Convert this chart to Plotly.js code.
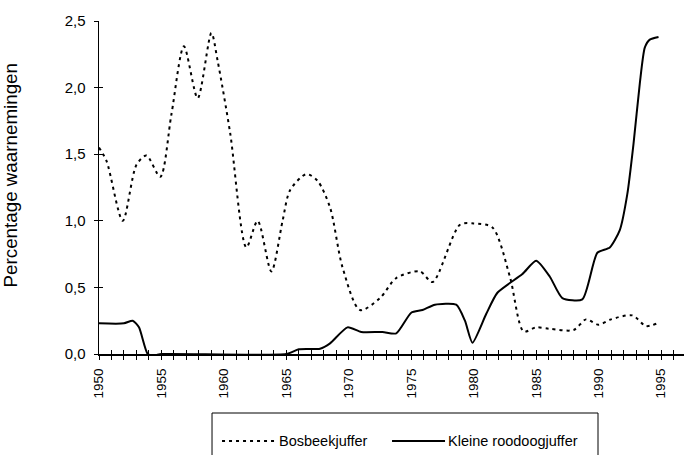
<!DOCTYPE html>
<html>
<head>
<meta charset="utf-8">
<script src="https://cdn.plot.ly/plotly-3.0.1.min.js"></script>
<style>html,body{margin:0;padding:0;background:#fff;}#chart{width:684px;height:455px;}</style>
</head>
<body>
<div id="chart"></div>
<script>
// Bosbeekjuffer (dotted)
const bosYears = [1950, 1950.6, 1951.9, 1953, 1953.8, 1954.9, 1955.8, 1956.8, 1957.9, 1959, 1959.5, 1960.5, 1961.8, 1962.7, 1963.8, 1964.7, 1965.3, 1966.6, 1967.5, 1968.5, 1969.5, 1970.9, 1972.5, 1973.8, 1975.7, 1976.7, 1978.9, 1980, 1981.5, 1982.9, 1984, 1985, 1986, 1988, 1989, 1990, 1991, 1992.7, 1993.8, 1994.7];
const bosValues = [1.55, 1.45, 1.0, 1.42, 1.49, 1.33, 1.8, 2.31, 1.92, 2.41, 2.2, 1.66, 0.80, 1.0, 0.62, 1.0, 1.23, 1.35, 1.3, 1.1, 0.65, 0.33, 0.42, 0.57, 0.62, 0.54, 0.97, 0.98, 0.95, 0.58, 0.17, 0.2, 0.19, 0.18, 0.26, 0.22, 0.26, 0.29, 0.21, 0.23];
// Kleine roodoogjuffer (solid)
const kleineYears = [1950, 1952, 1952.7, 1953.2, 1953.9, 1954.4, 1955, 1965, 1966, 1967.7, 1968.5, 1969.9, 1971, 1972.7, 1973.8, 1975, 1975.9, 1976.9, 1978.6, 1979.3, 1979.9, 1981, 1981.9, 1983.9, 1985, 1986.1, 1987.1, 1988.7, 1989.9, 1990.9, 1991.7, 1992.3, 1992.8, 1993.3, 1993.7, 1994.1, 1994.8];
const kleineValues = [0.23, 0.23, 0.25, 0.2, 0.0, -0.01, 0, 0, 0.035, 0.04, 0.08, 0.2, 0.165, 0.165, 0.155, 0.31, 0.33, 0.37, 0.37, 0.25, 0.085, 0.3, 0.46, 0.6, 0.70, 0.58, 0.42, 0.41, 0.76, 0.80, 0.93, 1.2, 1.58, 2.03, 2.3, 2.36, 2.38];

const seriesNames = ["Bosbeekjuffer", "Kleine roodoogjuffer"];
const yTitle = "Percentage waarnemingen";
const xRange = [1950, 1996.84];
const yRange = [0, 2.5];
// yearly tick positions, labelled every 5 years
const tickYears = [1950,1951,1952,1953,1954,1955,1956,1957,1958,1959,1960,1961,1962,1963,1964,1965,1966,1967,1968,1969,1970,1971,1972,1973,1974,1975,1976,1977,1978,1979,1980,1981,1982,1983,1984,1985,1986,1987,1988,1989,1990,1991,1992,1993,1994,1995,1996];
const tickLabels = tickYears.map(y => (y % 5 === 0 ? String(y) : ''));

const font = "Arial, 'Liberation Sans', sans-serif";

const traces = [
  {x: bosYears, y: bosValues, name: seriesNames[0], type: 'scatter', mode: 'lines',
   line: {color: '#000', width: 2, dash: '3px,4px', shape: 'spline', smoothing: 0.8}},
  {x: kleineYears, y: kleineValues, name: seriesNames[1], type: 'scatter', mode: 'lines',
   line: {color: '#000', width: 2, shape: 'spline', smoothing: 0.6}},
  // invisible copy so the overlay axes (inner tick halves) are rendered
  {x: kleineYears, y: kleineValues, xaxis: 'x2', yaxis: 'y2', type: 'scatter', mode: 'lines',
   line: {color: 'rgba(0,0,0,0)', width: 0}, opacity: 0, hoverinfo: 'skip', showlegend: false}
];

const layout = {
  width: 684, height: 455,
  margin: {l: 99, r: 0, t: 21, b: 101},
  paper_bgcolor: '#fff', plot_bgcolor: '#fff',
  separators: ',.',
  showlegend: false,
  font: {family: font, color: '#000'},
  xaxis: {
    range: xRange, tickmode: 'array', tickvals: tickYears, ticktext: tickLabels,
    ticks: 'outside', ticklen: 4, tickcolor: '#000', tickwidth: 1,
    tickangle: -90, tickfont: {size: 13.5, family: font}, ticklabelstandoff: 3,
    showline: true, linecolor: '#000', linewidth: 2,
    showgrid: false, zeroline: false
  },
  xaxis2: {
    range: xRange, overlaying: 'x', anchor: 'y2', side: 'bottom',
    tickmode: 'array', tickvals: tickYears,
    ticks: 'inside', ticklen: 4, tickcolor: '#000', tickwidth: 1,
    showticklabels: false, showline: false, showgrid: false, zeroline: false
  },
  yaxis: {
    range: yRange, tickmode: 'linear', tick0: 0, dtick: 0.5, tickformat: '.1f',
    ticks: 'outside', ticklen: 4, tickcolor: '#000', tickwidth: 1,
    tickfont: {size: 15, family: font}, ticklabelstandoff: 5,
    showline: true, linecolor: '#000', linewidth: 1.5,
    showgrid: false, zeroline: false
  },
  yaxis2: {
    range: yRange, overlaying: 'y', anchor: 'x2', side: 'left',
    tickmode: 'linear', tick0: 0, dtick: 0.5,
    ticks: 'inside', ticklen: 4, tickcolor: '#000', tickwidth: 1,
    showticklabels: false, showline: false, showgrid: false, zeroline: false
  },
  annotations: [
    {text: yTitle, xref: 'paper', yref: 'paper', x: -0.1505, y: 0.536,
     textangle: -90, showarrow: false, xanchor: 'center', yanchor: 'middle',
     font: {size: 18.8, family: font, color: '#000'}},
    {text: seriesNames[0], xref: 'paper', yref: 'paper', x: 0.3043, y: -0.2613,
     showarrow: false, xanchor: 'left', yanchor: 'middle',
     font: {size: 14.5, family: font, color: '#000'}},
    {text: seriesNames[1], xref: 'paper', yref: 'paper', x: 0.5932, y: -0.2613,
     showarrow: false, xanchor: 'left', yanchor: 'middle',
     font: {size: 14.5, family: font, color: '#000'}}
  ],
  shapes: [
    {type: 'rect', xref: 'paper', yref: 'paper', x0: 0.1932, x1: 0.853, y0: -0.1772, y1: -0.36,
     line: {color: '#000', width: 1}},
    {type: 'line', xref: 'paper', yref: 'paper', x0: 0.2103, x1: 0.3009, y0: -0.2613, y1: -0.2613,
     line: {color: '#000', width: 2, dash: '3px,4px'}},
    {type: 'line', xref: 'paper', yref: 'paper', x0: 0.5009, x1: 0.5915, y0: -0.2613, y1: -0.2613,
     line: {color: '#000', width: 2}}
  ]
};

Plotly.newPlot('chart', traces, layout, {staticPlot: true, displayModeBar: false});
</script>
</body>
</html>
